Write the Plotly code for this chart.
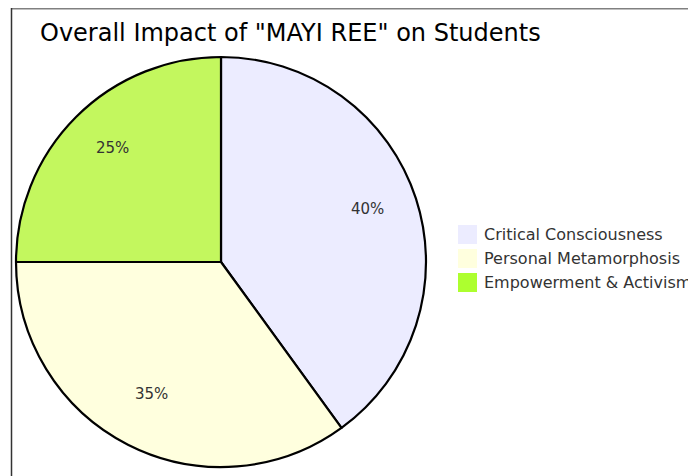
import math
import plotly.graph_objects as go

title_text = 'Overall Impact of "MAYI REE" on Students'
categories = ["Critical Consciousness", "Personal Metamorphosis", "Empowerment & Activism"]
values = [40, 35, 25]

legend_colors = ["#ECECFF", "#FFFFDE", "#ADFF2F"]
slice_colors = ["#ECECFF", "#FFFFDE", "#C3F75E"]

W, H = 696, 476
cx, cy, R = 213, 254, 205

fig = go.Figure(go.Pie(
    labels=categories,
    values=values,
    sort=False,
    direction="clockwise",
    rotation=0,
    marker=dict(colors=slice_colors, line=dict(color="#000000", width=2.2)),
    textinfo="none",
    domain=dict(x=[(cx - R) / W, (cx + R) / W], y=[1 - (cy + R) / H, 1 - (cy - R) / H]),
    showlegend=False,
    hoverinfo="label+percent",
))

# percentage labels at 75% of the radius, mid-angle of each slice
total = sum(values)
annotations = []
start = 0.0
for v in values:
    mid = (start + v / 2) / total * 2 * math.pi
    start += v
    tx = cx + 0.75 * R * math.sin(mid)
    ty = cy - 0.75 * R * math.cos(mid) - 5
    annotations.append(dict(
        x=tx / W, y=1 - ty / H, xref="paper", yref="paper", showarrow=False,
        text=f"{round(v / total * 100)}%", xanchor="center", yanchor="middle",
        font=dict(family="DejaVu Sans", size=15, color="#333333"),
    ))

# frame lines and legend
shapes = [
    dict(type="line", xref="paper", yref="paper", x0=3.5 / W, x1=1, y0=1 - 0.5 / H, y1=1 - 0.5 / H,
         line=dict(color="#808080", width=2)),
    dict(type="line", xref="paper", yref="paper", x0=3.5 / W, x1=3.5 / W, y0=0, y1=1,
         line=dict(color="#333333", width=1.5)),
]
lx, ly0, box, step = 450, 217, 19, 24
for i, (name, col) in enumerate(zip(categories, legend_colors)):
    top = ly0 + i * step
    shapes.append(dict(type="rect", xref="paper", yref="paper",
                       x0=lx / W, x1=(lx + box) / W, y0=1 - (top + box) / H, y1=1 - top / H,
                       fillcolor=col, line=dict(width=0)))
    annotations.append(dict(
        x=(lx + box + 5) / W, y=1 - (top + box / 2) / H, xref="paper", yref="paper",
        showarrow=False, text=name, xanchor="left", yanchor="middle",
        font=dict(family="DejaVu Sans", size=16, color="#333333"),
    ))

fig.update_layout(
    width=W, height=H,
    margin=dict(l=0, r=0, t=0, b=0, autoexpand=False),
    paper_bgcolor="white",
    title=dict(text=title_text, x=32 / W, xanchor="left", y=1 - 25 / H, yanchor="middle",
               font=dict(family="DejaVu Sans", size=24, color="#000000")),
    shapes=shapes,
    annotations=annotations,
)

fig.write_html("out.html")
